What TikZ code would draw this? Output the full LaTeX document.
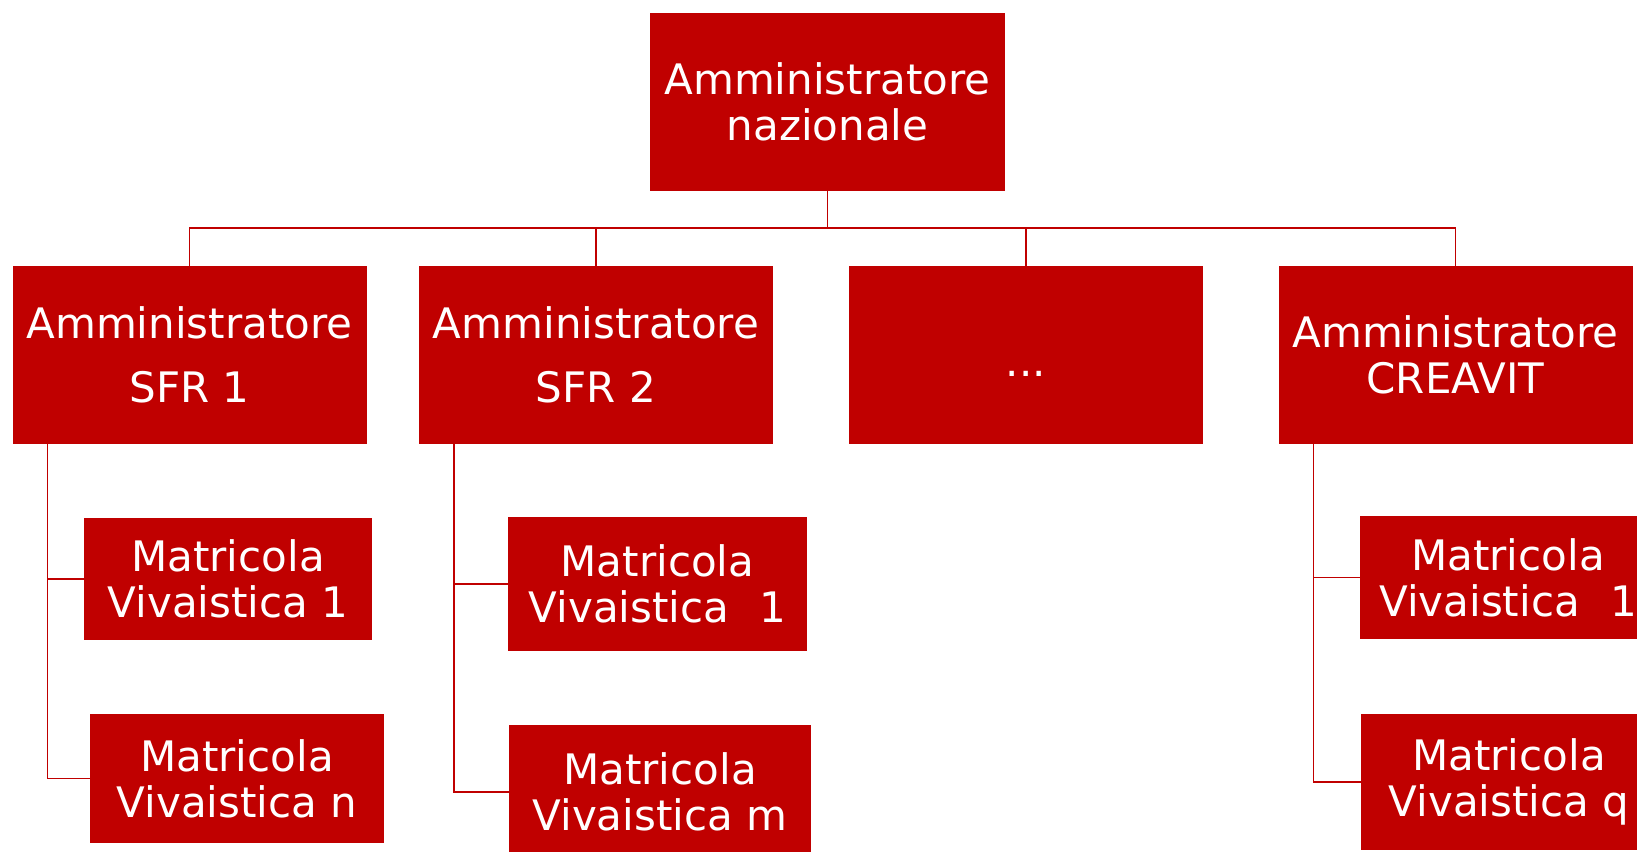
\documentclass[tikz,border=0pt]{standalone}
\usepackage{fontspec}
\setmainfont{DejaVu Sans}
\usepackage{xcolor}
\usepackage{tikz}
\usetikzlibrary{calc}
\usetikzlibrary{positioning}
\definecolor{boxred}{RGB}{192,0,0}

\begin{document}
\begin{tikzpicture}[x=1pt,y=-1pt,
	box/.style={fill=boxred,text=white,inner sep=0pt,align=center,font=\fontsize{42}{46}\selectfont},
	adminbox/.style={box,minimum width=354pt,minimum height=178pt},
	link/.style={draw=boxred,line width=1.6pt}]
	\useasboundingbox (0,0) rectangle (1637,851);
	\clip (0,0) rectangle (1637,851);
	% nazionale
	\node[adminbox,minimum width=355pt,minimum height=177pt] (naz) at (827.5,102) {Amministratore\\nazionale};
	% SFR
	\node[adminbox] (sfr1) at (189.5,355) {Amministratore\\[18pt]SFR 1};
	\node[adminbox] (sfr2) at (596,355) {Amministratore\\[18pt]SFR 2};
	\node[adminbox,text height=44pt,text depth=2pt] (altri) at (1026,355) {...};
	\node[adminbox] (creavit) at (1455.5,355) {Amministratore\\CREAVIT};
	% matricole
	\node[box,minimum width=288pt,minimum height=122pt] (mva) at (228,579) {Matricola\\Vivaistica 1};
	\node[box,minimum width=294pt,minimum height=129pt] (mvn) at (237,778.5) {Matricola\\Vivaistica n};
	\node[box,minimum width=299pt,minimum height=134pt] (mvb) at (657.5,584) {Matricola\\Vivaistica\ \hspace{0.4em}1};
	\node[box,minimum width=302pt,minimum height=134pt] (mvm) at (660,792) {Matricola\\Vivaistica m};
	\node[box,minimum width=296pt,minimum height=123pt] (mvc) at (1508,577.5) {Matricola\\Vivaistica\ \hspace{0.4em}1};
	\node[box,minimum width=296pt,minimum height=136pt] (mvq) at (1509,782) {Matricola\\Vivaistica q};
	% collegamenti
	\draw[link] (naz.south) -- (naz.south |- 0,228) coordinate (bar);
	\draw[link] (sfr1.north) |- (bar);
	\draw[link] (sfr2.north) |- (bar);
	\draw[link] (altri.north) |- (bar);
	\draw[link] (creavit.north) |- (bar);
	\coordinate (t1) at ([xshift=35pt]sfr1.south west);
	\coordinate (t2) at ([xshift=35pt]sfr2.south west);
	\coordinate (t3) at ([xshift=35pt]creavit.south west);
	\draw[link] (t1) |- (mva.west);
	\draw[link] (t1) |- (mvn.west);
	\draw[link] (t2) |- (mvb.west);
	\draw[link] (t2) |- (mvm.west);
	\draw[link] (t3) |- (mvc.west);
	\draw[link] (t3) |- (mvq.west);
\end{tikzpicture}
\end{document}
